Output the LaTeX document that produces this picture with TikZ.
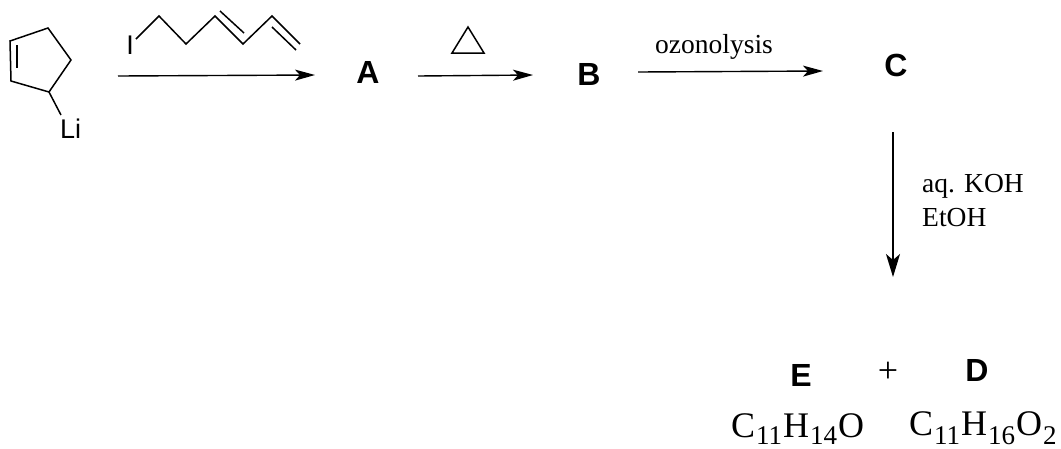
\documentclass[tikz,border=0pt]{standalone}
\usepackage{fontspec}
\setmainfont{Liberation Serif}
\newfontfamily\labelfont{Liberation Sans}
\usetikzlibrary{arrows.meta}
\tikzset{
  x=1pt,y=-1pt,
  bond/.style={line width=1.5pt,line join=miter},
  rxn/.style={line width=1.4pt,-{Stealth[length=20pt,width=11pt,inset=5pt]}},
  rxndown/.style={line width=1.6pt,-{Stealth[length=23pt,width=14pt,inset=6pt]}},
  cmpd/.style={font=\labelfont\bfseries\fontsize{32}{32}\selectfont,inner sep=0pt},
  atom/.style={font=\labelfont\fontsize{27}{27}\selectfont,inner sep=0pt},
  reagent/.style={font=\fontsize{27.5}{30}\selectfont,inner sep=0pt,anchor=base west},
  formula/.style={font=\fontsize{36}{36}\selectfont,inner sep=0pt,anchor=base west},
}
\newcommand{\lowsub}[2][9pt]{\kern1pt\raisebox{-#1}{\fontsize{27}{27}\selectfont #2}\kern1pt}
\begin{document}
\begin{tikzpicture}
\useasboundingbox (0,0) rectangle (1061,448);
% cyclopentene
\coordinate (r1) at (10,41);
\coordinate (r2) at (48,28);
\coordinate (r3) at (71,60);
\coordinate (r4) at (49,92);
\coordinate (r5) at (11,81);
\coordinate (d1) at (17,45);
\coordinate (d2) at (17,68);
\draw[bond] (r1)--(r2)--(r3)--(r4)--(r5)--cycle;
\draw[bond] (d1)--(d2);
\node[atom,anchor=base west] (li) at (60,138) {Li};
\coordinate (lib) at (61,115);
\draw[bond] (r4)--(lib);
% iodo diene
\node[atom,anchor=base] (iod) at (130,54) {I};
\coordinate (c1) at (136,39);
\coordinate (c2) at (159,16);
\coordinate (c3) at (186,44);
\coordinate (c4) at (215,16);
\coordinate (c5) at (243,44);
\coordinate (c6) at (272,16);
\coordinate (c7) at (300,44);
\draw[bond] (c1)--(c2)--(c3)--(c4)--(c5)--(c6)--(c7);
\coordinate (e1) at (220,11);
\coordinate (e2) at (244,33);
\coordinate (f1) at (272,27);
\coordinate (f2) at (296,50);
\draw[bond] (e1)--(e2);
\draw[bond] (f1)--(f2);
% compounds
\node[cmpd] (A) at (368,72) {A};
\node[cmpd] (B) at (589,74) {B};
\node[cmpd] (C) at (896,65) {C};
\node[cmpd] (E) at (801,375) {E};
\node[cmpd] (D) at (977,370) {D};
\node[font=\fontsize{36}{36}\selectfont,inner sep=0pt] (plus) at (888,372) {+};
% arrows
\coordinate (a1s) at (118,76); \coordinate (a1e) at (315,75);
\coordinate (a2s) at (418,76); \coordinate (a2e) at (533,75);
\coordinate (a3s) at (638,72); \coordinate (a3e) at (823,71);
\coordinate (a4s) at (893,132); \coordinate (a4e) at (893,277);
\draw[rxn] (a1s)--(a1e);
\draw[rxn] (a2s)--(a2e);
\draw[rxn] (a3s)--(a3e);
\draw[rxndown] (a4s)--(a4e);
% delta
\coordinate (t1) at (468,27); \coordinate (t2) at (484,53); \coordinate (t3) at (452,53);
\draw[bond] (t1)--(t2)--(t3)--cycle;
% reagents
\node[reagent] (oz) at (655,53) {ozonolysis};
\node[reagent] (koh) at (922,192) {aq. KOH};
\node[reagent] (etoh) at (922,226) {EtOH};
% formulae
\node[formula] (fe) at (731,437) {C\lowsub[7pt]{11}H\lowsub[7pt]{14}O};
\node[formula] (fd) at (909,435) {C\lowsub{11}H\lowsub{16}O\lowsub{2}};
\end{tikzpicture}
\end{document}
